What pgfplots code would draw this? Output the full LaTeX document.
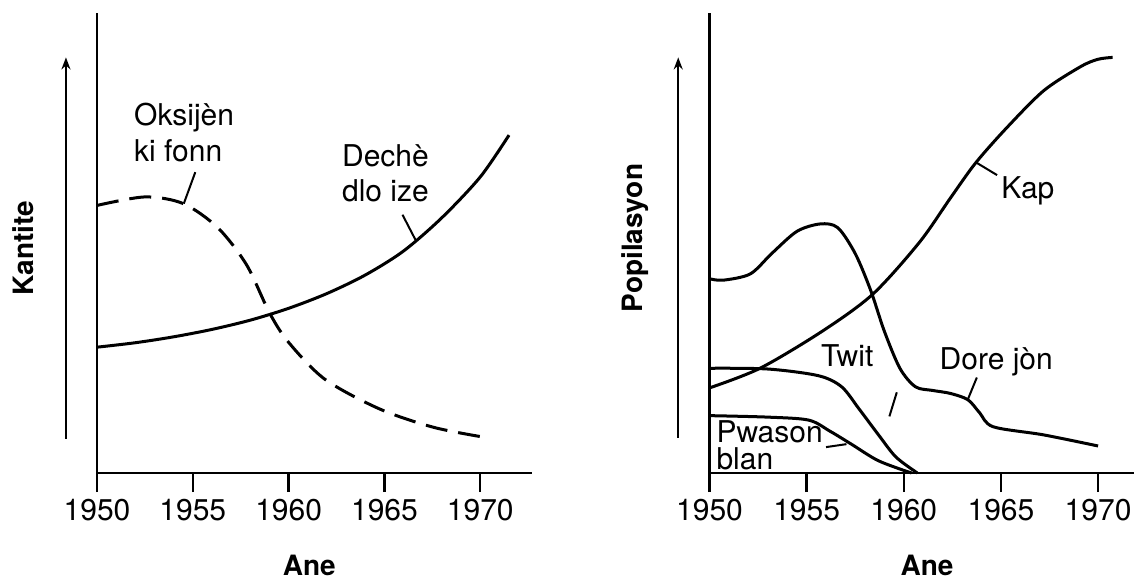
\documentclass[border=0pt]{standalone}
\usepackage{pgfplots}
\pgfplotsset{compat=1.18}
\usetikzlibrary{arrows.meta}
\usepackage{fontspec}
\setmainfont{TeX Gyre Heros}
\begin{document}
\begin{tikzpicture}
\useasboundingbox (0pt,0pt) rectangle (567pt,290pt);
\pgfplotsset{myax/.style={scale only axis, height=230pt, ymin=0, ymax=1243,
  axis x line=bottom, axis y line=left, axis line style={-, line width=1.2pt},
  ytick=\empty, xtick={1950,1955,1960,1965,1970},
  xticklabels={1950,1955,1960,1965,1970},
  tick align=outside, major tick length=9.5pt,
  tick style={line width=1.2pt, black},
  ticklabel style={font=\fontsize{15}{17}\selectfont},
  clip=false},
  crv/.style={black, solid, line width=1.5pt, mark=none, smooth, tension=0.5}}
\tikzset{lbl/.style={anchor=base west, font=\fontsize{15}{17}\selectfont, inner sep=0pt},
  ptr/.style={line width=1pt},
  arr/.style={-{Stealth[length=6pt,width=4.5pt]}, line width=1pt}}
% ---------------- left panel
\begin{axis}[myax, at={(48.5pt,53.5pt)}, anchor=south west, width=217.5pt, xmin=1950, xmax=1972.7]
\addplot[crv] coordinates {(1950,340) (1952,352) (1954,368) (1956,388) (1958,413) (1960,445) (1962,485) (1964,535) (1966,600) (1968,690) (1970,800) (1971.5,913)};
\addplot[crv, dash pattern=on 11pt off 5.5pt] coordinates {(1950,723) (1952.5,746) (1954.5,728) (1956.3,663) (1957.8,563) (1959,433) (1960,353) (1961.9,253) (1964.75,173) (1967.6,123) (1970.4,95)};
\draw[arr] (axis cs:1948.38,93) -- (axis cs:1948.38,1123);
\node[lbl] at (axis cs:1951.92,938) {Oksijèn};
\node[lbl] at (axis cs:1951.92,843) {ki fonn};
\node[lbl] at (axis cs:1962.77,828) {Dechè};
\node[lbl] at (axis cs:1962.77,733) {dlo ize};
\draw[ptr] (axis cs:1955.13,813) -- (axis cs:1954.53,728);
\draw[ptr] (axis cs:1965.94,698) -- (axis cs:1966.64,628);
\node[font=\bfseries\fontsize{14}{16}\selectfont, rotate=90] at (axis cs:1946.17,608) {Kantite};
\node[font=\bfseries\fontsize{14}{16}\selectfont] at (axis cs:1961.08,-250) {Ane};
\end{axis}
% ---------------- right panel
\begin{axis}[myax, at={(354.75pt,53.5pt)}, anchor=south west, width=212.25pt, xmin=1950, xmax=1971.85]
% Kap
\addplot[crv] coordinates {(1950,230) (1952.6,283) (1955.8,383) (1958.4,483) (1960.8,623) (1962.4,743) (1963.7,838) (1965.3,933) (1967.2,1033) (1969.1,1098) (1970,1118) (1970.75,1123)};
% Dore jon
\addplot[crv] coordinates {(1950,525) (1950.7,521) (1952.1,538) (1953.2,593) (1954.5,653) (1955.7,673) (1956.6,663) (1957.5,593) (1958.3,493) (1959,383) (1959.8,283) (1960.6,233) (1961.5,223) (1962.4,215) (1963.3,198) (1963.9,163) (1964.6,125) (1967.2,103) (1970,73)};
% Twit
\addplot[crv] coordinates {(1950,283) (1953,281) (1955.6,263) (1956.8,233) (1957.7,173) (1958.7,103) (1959.6,43) (1960.7,0)};
% Pwason blan
\addplot[crv] coordinates {(1950,155) (1953,151) (1955.1,143) (1956.2,113) (1957.3,78) (1958.7,33) (1960.4,0)};
\draw[arr] (axis cs:1948.39,95) -- (axis cs:1948.39,1123);
\node[lbl] at (axis cs:1965.0,743) {Kap};
\node[lbl] at (axis cs:1955.73,288) {Twit};
\node[lbl] at (axis cs:1961.83,280) {Dore jòn};
\node[lbl] at (axis cs:1950.34,83) {Pwason};
\node[lbl] at (axis cs:1950.34,10) {blan};
\draw[ptr] (axis cs:1963.76,838) -- (axis cs:1964.8,805);
\draw[ptr] (axis cs:1959.26,153) -- (axis cs:1959.64,218);
\draw[ptr] (axis cs:1963.76,258) -- (axis cs:1963.29,198);
\draw[ptr] (axis cs:1956.0,70) -- (axis cs:1957.05,78);
\node[font=\bfseries\fontsize{14}{16}\selectfont, rotate=90] at (axis cs:1946.18,635) {Popilasyon};
\node[font=\bfseries\fontsize{14}{16}\selectfont] at (axis cs:1961.2,-250) {Ane};
\end{axis}
\end{tikzpicture}
\end{document}
